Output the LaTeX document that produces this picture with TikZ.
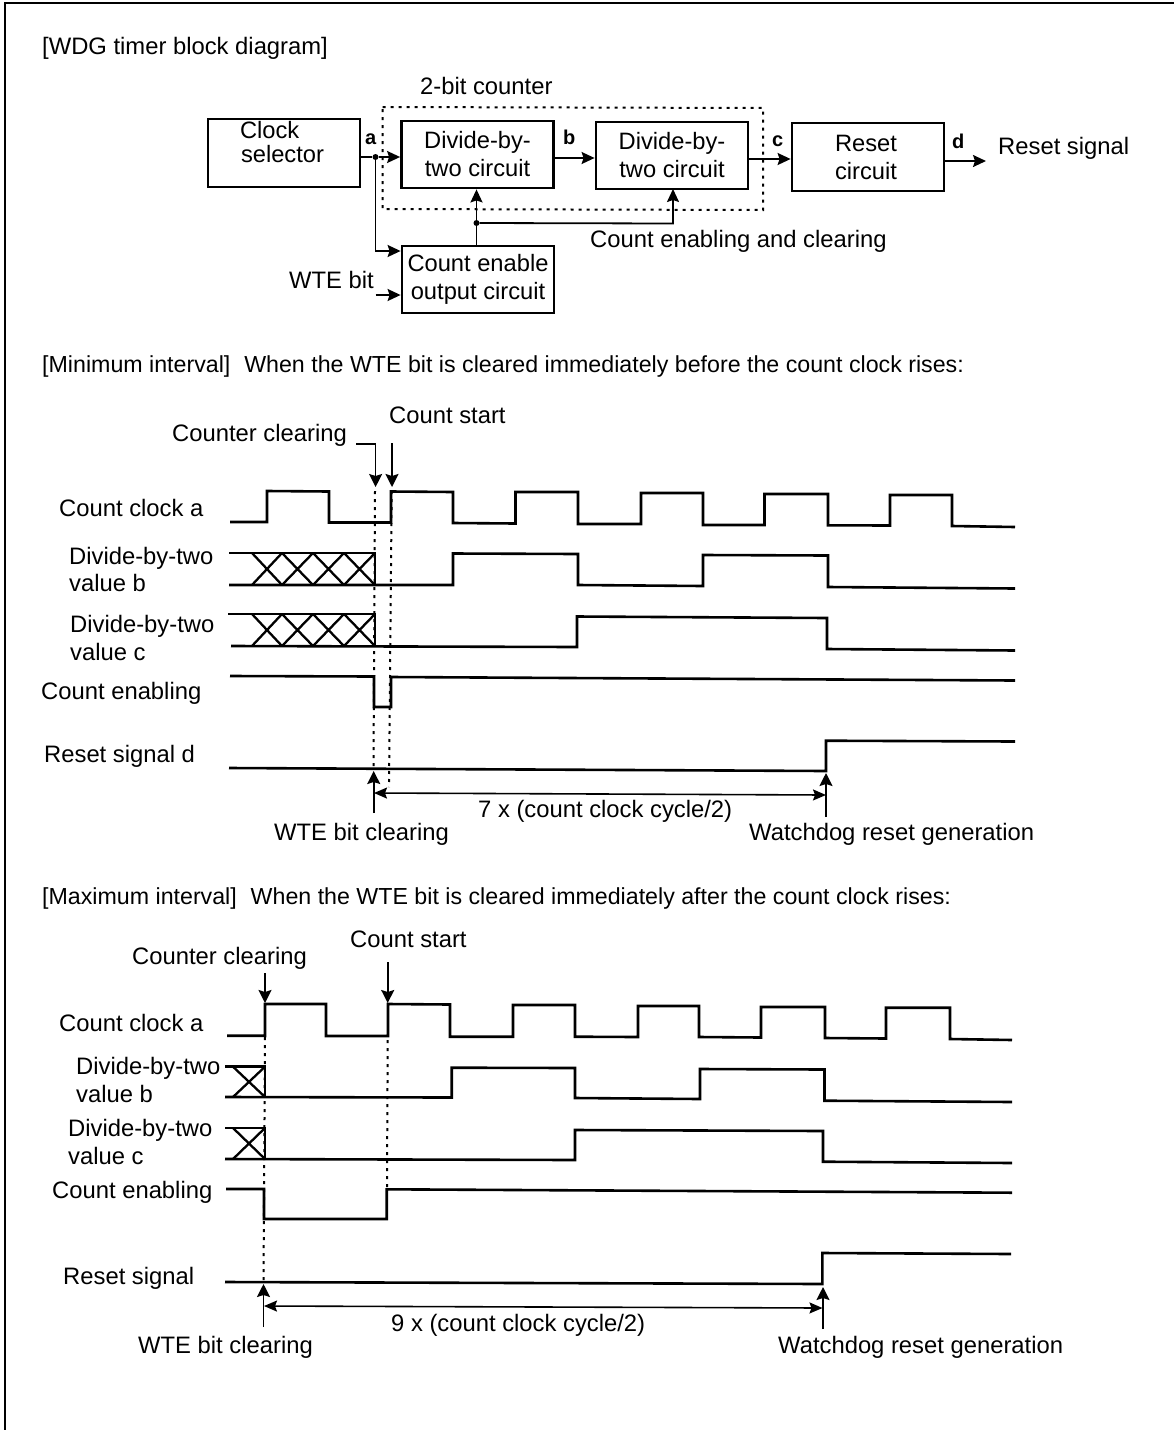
\documentclass[tikz,border=0pt]{standalone}
\usepackage{fontspec}
\setmainfont{Liberation Sans}
\usetikzlibrary{arrows.meta}
\tikzset{
  x=1pt,y=-1pt,
  lbl/.style={inner sep=0pt,anchor=base west,font=\fontsize{23.8}{28}\selectfont},
  hdr/.style={inner sep=0pt,anchor=base west,font=\fontsize{23.2}{28}\selectfont},
  tag/.style={inner sep=0pt,anchor=base west,font=\bfseries\fontsize{20}{22}\selectfont},
  box/.style={draw,line width=2.8pt,inner sep=0pt,minimum width=152pt,font=\fontsize{23.7}{28}\selectfont,align=center},
  sig/.style={line width=2.6pt,line join=miter},
  dots/.style={line width=2pt,dash pattern=on 3pt off 5pt},
  counter/.style={line width=2pt,dash pattern=on 3pt off 5pt},
  wire/.style={line width=1.8pt,-{Stealth[inset=2pt,length=13pt,width=12pt]}},
  ptr/.style={line width=1.7pt,-{Stealth[inset=2pt,length=13pt,width=13pt]}},
  span/.style={line width=1.6pt,{Stealth[inset=2pt,length=13pt,width=11pt]}-{Stealth[inset=2pt,length=13pt,width=11pt]}},
  hatch/.style={line width=2.3pt},
  dot/.style={circle,fill,inner sep=0pt,minimum size=6pt},
}
\newcommand{\lb}[4][lbl]{\node[#1] at (#2,#3) {#4};}
\begin{document}
\begin{tikzpicture}
\useasboundingbox (0,0) rectangle (1174,1430);
\draw[line width=2pt] (5,1430) -- (5,3) -- (1174,3);
% ---------- block diagram ----------
\lb{42}{54}{[WDG timer block diagram]}
\lb{420}{94}{2-bit counter}
\node[box,minimum height=68pt] (clk) at (284,153) {\parbox[c][68pt][t]{152pt}{\vspace*{2pt}\hspace*{32pt}Clock\\[-4pt]\hspace*{33pt}selector}};
\node[box,minimum height=67pt] (dv1) at (477.5,154.5) {Divide-by-\\two circuit};
\node[box,minimum height=67pt] (dv2) at (672,155.5) {Divide-by-\\two circuit};
\node[box,minimum height=68pt] (rst) at (868,157) {Reset\hspace*{4pt}\\circuit\hspace*{4pt}};
\node[box,minimum height=67pt] (cen) at (478,279.5) {Count enable\\output circuit};
\draw[counter] (382.5,107) -- (763,108) -- (763,210) -- (382.5,209) -- cycle;
\node[dot] (ja) at (375.5,157) {};
\node[dot] (jc) at (476.5,223) {};
\coordinate (rsig) at (986,161);
\coordinate (wte) at (375.5,295);
\draw[line width=1.8pt] (clk.east |- ja) -- (ja);
\draw[wire] (ja) -- (ja -| dv1.west);
\draw[wire] (ja) -- (375.5,251) -- (cen.west |- 0,251);
\draw[wire] (wte) -- (wte -| cen.west);
\draw[wire] (dv1.east |- 0,158) -- (dv2.west |- 0,158);
\draw[wire] (dv2.east |- 0,159) -- (rst.west |- 0,159);
\draw[wire] (rst.east |- rsig) -- (rsig);
\draw[wire] (cen.north -| jc) -- (dv1.south -| jc);
\draw[wire] (jc) -- (673,223.5) -- (673,189);
\lb[tag]{365}{144}{a}
\lb[tag]{563}{144}{b}
\lb[tag]{772}{146}{c}
\lb[tag]{952}{148}{d}
\lb{998}{154}{Reset signal}
\lb{590}{247}{Count enabling and clearing}
\lb{289}{288}{WTE bit}
% ---------- minimum interval ----------
\lb[hdr]{42}{372}{[Minimum interval]\hspace{0.6em}When the WTE bit is cleared immediately before the count clock rises:}
\lb{172}{441}{Counter clearing}
\lb{389}{423}{Count start}
\lb{59}{516}{Count clock a}
\lb{69}{564}{Divide-by-two}
\lb{69}{591}{value b}
\lb{70}{632}{Divide-by-two}
\lb{70}{660}{value c}
\lb{41}{699}{Count enabling}
\lb{44}{762}{Reset signal d}
\lb{274}{840}{WTE bit clearing}
\lb{478}{817}{7 x (count clock cycle/2)}
\lb{749}{840}{Watchdog reset generation}
\draw[sig] (230,522)--(267,522)--(267,491)--(329,491.5)--(329,522.5)--(391,522.5)--(391,491.5)--(453,492)--(453,523)--(515.5,523.5)--(515.5,492)--(578,492)--(578,524)--(641,524)--(641,493)--(703,493)--(703,525)--(764.5,525)--(764.5,494)--(828,494)--(828,525.3)--(890,525.5)--(890,495)--(952,495)--(952,526)--(1015,527);
\draw[sig] (229,553)--(375,553)--(375,585);
\draw[sig] (229,585)--(453,585)--(453,553.5)--(578,554)--(578,585)--(703,586)--(703,555)--(828,555.5)--(828,587)--(1015,588.5);
\draw[sig] (228,614)--(375,614)--(375,646);
\draw[sig] (231,646)--(577,647)--(577,616.5)--(827,618)--(827,649)--(1015,650.5);
\draw[sig] (230,676)--(374,676.5)--(374,707)--(391,707)--(391,677)--(1015,680.5);
\draw[sig] (229,768)--(826,771)--(826,740.7)--(1015,741.5);
\foreach \a/\b in {252/282,282/313,313/344,344/375}{
  \draw[hatch] (\a,553)--(\b,585) (\a,585)--(\b,553);
  \draw[hatch] (\a,614)--(\b,646) (\a,646)--(\b,614);
}
\draw[dots] (375,491)--(373.5,767);
\draw[dots] (391.7,491)--(389,787);
\coordinate (cca) at (356,444); \coordinate (ccb) at (375.6,444); \coordinate (cct) at (375.6,487);
\coordinate (csa) at (392,443); \coordinate (cst) at (392,487);
\draw[ptr] (cca)--(ccb)--(cct);
\draw[ptr] (csa)--(cst);
\coordinate (wa) at (373.7,813); \coordinate (wt) at (373.7,771);
\coordinate (ra) at (826,817); \coordinate (rt) at (826,773);
\draw[ptr] (wa)--(wt);
\draw[ptr] (ra)--(rt);
\draw[span] (374,793)--(826,795);
% ---------- maximum interval ----------
\lb[hdr]{42}{904}{[Maximum interval]\hspace{0.6em}When the WTE bit is cleared immediately after the count clock rises:}
\lb{132}{964}{Counter clearing}
\lb{350}{947}{Count start}
\lb{59}{1031}{Count clock a}
\lb{76}{1074}{Divide-by-two}
\lb{76}{1102}{value b}
\lb{68}{1136}{Divide-by-two}
\lb{68}{1164}{value c}
\lb{52}{1198}{Count enabling}
\lb{63}{1284}{Reset signal}
\lb{138}{1353}{WTE bit clearing}
\lb{391}{1331}{9 x (count clock cycle/2)}
\lb{778}{1353}{Watchdog reset generation}
\draw[sig] (227,1035.7)--(265,1035.7)--(265,1004)--(326,1004)--(326,1036)--(388,1036)--(388,1004)--(450,1004.5)--(450,1036.7)--(513,1036.7)--(513,1005)--(575,1005)--(575,1036.7)--(638,1037)--(638,1006)--(699,1006)--(699,1037)--(761,1037.5)--(761,1007)--(825,1007)--(825,1038)--(886,1038.5)--(886,1007.7)--(950,1007.7)--(950,1039)--(1012,1040);
\draw[sig] (225,1066.7)--(265,1066.7)--(265,1097);
\draw[sig] (225,1097)--(451.7,1097.5)--(451.7,1067.7)--(575,1068)--(575,1098)--(700,1099)--(700,1069)--(824.5,1069.5)--(824.5,1100.7)--(1012,1102);
\draw[sig] (225,1128)--(265,1128)--(265,1159);
\draw[sig] (225,1159)--(575,1160)--(575,1130)--(823,1131)--(823,1161.7)--(1012,1163);
\draw[sig] (226,1189)--(264,1189)--(264,1219)--(386.7,1219)--(386.7,1189.3)--(1012,1192.7);
\draw[sig] (225,1282)--(822.4,1284)--(822.4,1253)--(1011,1254);
\draw[hatch] (233,1066.7)--(265,1097) (233,1097)--(265,1066.7);
\draw[hatch] (233,1128)--(265,1159) (233,1159)--(265,1128);
\draw[dots] (265,1037)--(263.5,1282);
\draw[dots] (387.7,1040)--(387,1187);
\coordinate (dca) at (265,973); \coordinate (dct) at (265,1003);
\coordinate (dsa) at (387.7,962); \coordinate (dst) at (387.7,1003);
\draw[ptr] (dca)--(dct);
\draw[ptr] (dsa)--(dst);
\coordinate (xa) at (263.5,1327); \coordinate (xt) at (263.5,1284);
\coordinate (ya) at (823,1329); \coordinate (yt) at (823,1287);
\draw[ptr] (xa)--(xt);
\draw[ptr] (ya)--(yt);
\draw[span] (264,1306)--(822.5,1308);
\end{tikzpicture}
\end{document}
